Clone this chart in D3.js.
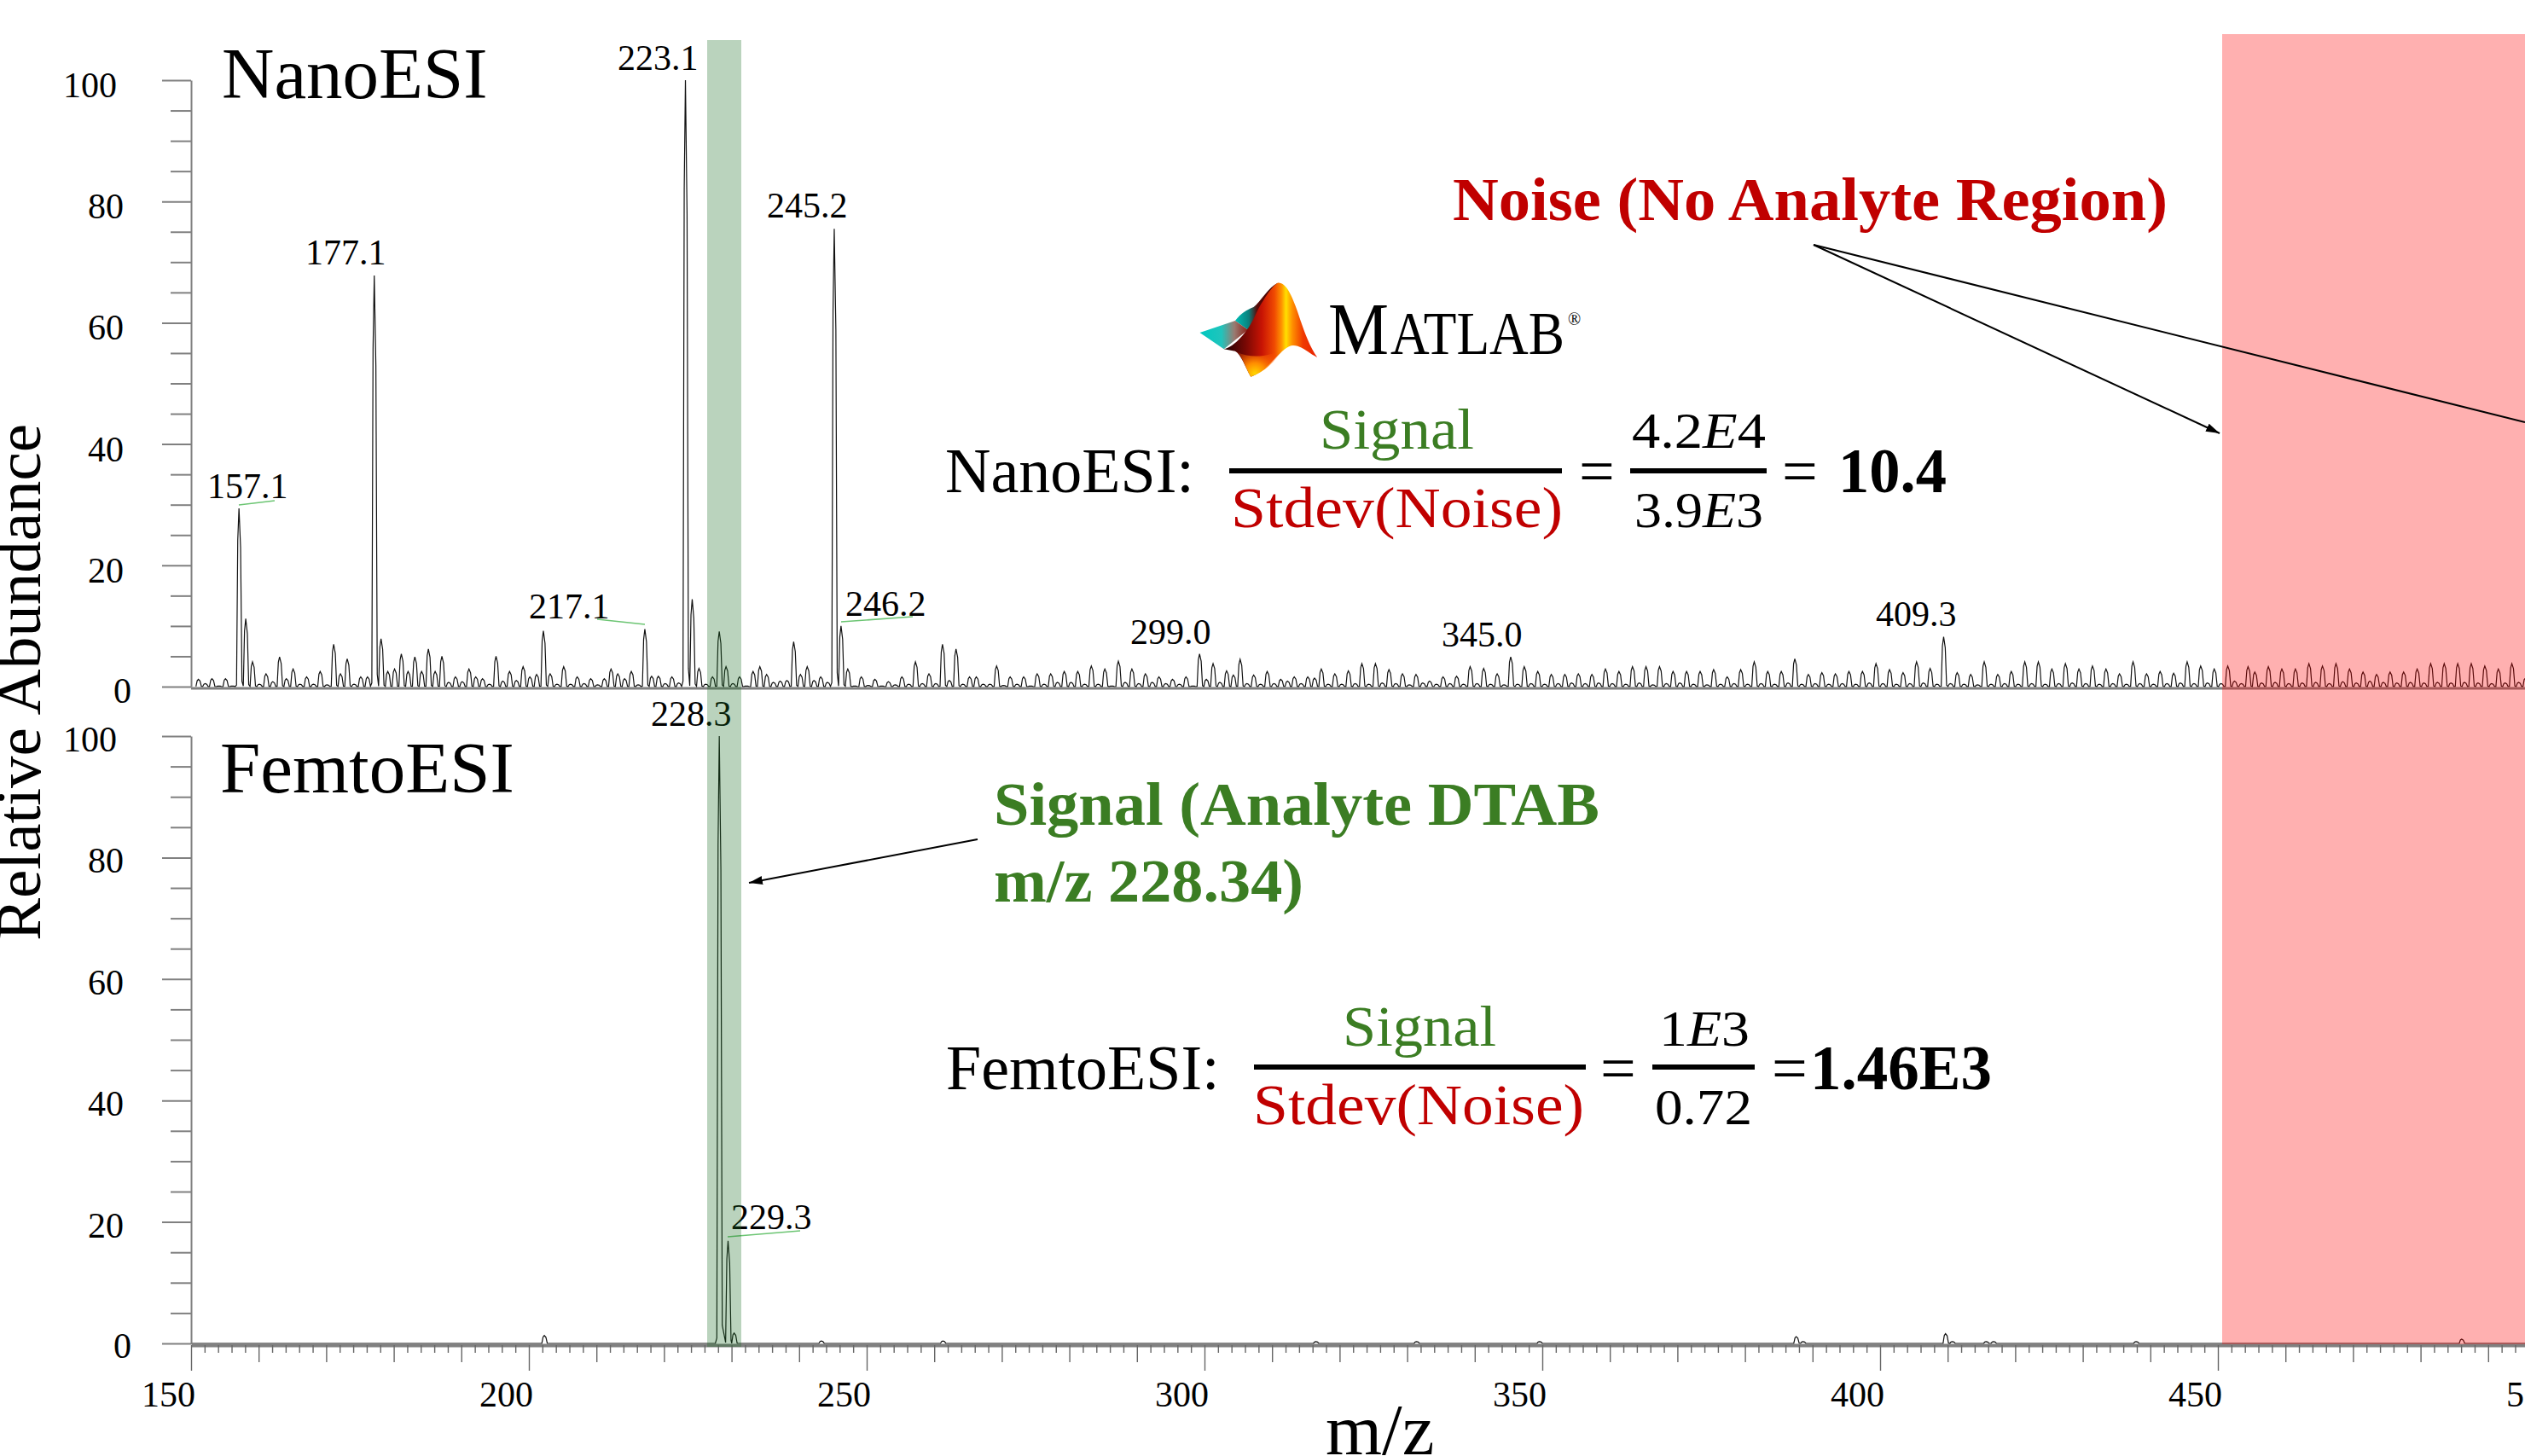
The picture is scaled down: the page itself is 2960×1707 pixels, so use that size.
<!DOCTYPE html>
<html><head><meta charset="utf-8">
<script src="https://cdn.jsdelivr.net/npm/d3@7"></script>
<style>html,body{margin:0;padding:0;background:#fff;overflow:hidden}svg{display:block}text{font-family:"Liberation Serif",serif;fill:#000}</style>
</head><body><svg id="c" width="2960" height="1707"></svg>
<script>
// Unit-resolution abundance for the NanoESI trace, m/z 151 upward, one value per m/z
const nanoAbundance=[
1.2,.5,1.3,.1,1.3,.1,29.4,11.2,4.1,.4,
2.1,.8,4.9,1.3,2.9,.4,1.6,.4,2.5,.3,
7,2.1,4.6,.4,1.6,1.6,67.8,7.9,2.5,2.9,
5.4,2.5,4.9,2.5,6.2,2.5,5,.7,1.6,.8,
2.9,1.6,1.3,.4,5,.9,2.5,1,3.3,1.6,
2,9.2,2.1,.4,3.3,.4,1.6,.5,1.3,.3,
1.3,2.9,2.1,1.3,2.5,.3,9.5,1.7,1.7,.5,
1.6,.6,100,14.4,3,.4,1.6,9.1,3.3,.5,
1.6,.1,2.5,3.3,2,.7,.9,1,7.4,2,
3.3,1,1.6,.7,75.5,10,2.9,.1,1.6,.2,
1.2,.1,.8,.3,1.6,.4,4.1,.5,2.1,.5,
7,1,6.2,.4,1.6,1.6,.4,.4,3.4,.2,
1.6,.4,1.6,.1,2.1,.4,2.1,.7,2.5,.7,
2.5,.4,3.4,.4,2.9,.1,4.2,.7,2.9,.5,
2.1,.7,1.6,.5,1.2,.4,1.6,.1,5.4,1.2,
3.8,.7,2.6,1.9,4.5,.5,1.9,.4,2.5,.5,
1.2,.9,1.6,.5,1.6,1.4,2.9,.4,2.1,.4,
2.6,.5,3.8,.4,3.8,.6,2.8,.5,2.1,.3,
2,.6,.9,.4,1.6,.5,1.7,.4,3.3,.5,
3,.4,2.1,.3,4.9,.4,3.3,.5,2.5,.4,
2,.5,2,.6,2.1,.5,2,.6,2.9,.5,
2.5,.4,3.3,.6,3.3,.3,3.3,.5,2.5,.6,
2.5,.4,2.5,.3,2.8,.4,1.6,.5,2.8,.4,
4.1,.5,2.5,.4,2.5,.6,4.6,.4,2,.5,
2.3,.4,2.1,.5,2.5,.4,2.5,.6,3.8,.5,
2.8,.4,2.3,.5,4.1,.6,3,.4,8.2,.5,
2.3,.4,2,.3,4.1,.4,2,.5,2.5,.4,
4.1,.5,4.1,.4,2.9,.5,3.8,.6,2.9,.5,
3.4,.4,2.9,.5,2.1,.4,4.1,.5,2.1,.4,
2.5,.5,2.2,.6,4.1,.5,3.4,.6,2.9,.5,
3.4,.9,.5,3.3,2.4,.6,3.3,.7,2.9,.5,
2.9,.6,3.8,.7,3.4,.5,3.8,.8,2.9,.6,
2.4,.9,2,.7,2.4,.6,2.4,.7,2.9,.6,
3.8,.7,3.8,.6,3.8,.7,3.8,.6,3.4,.5,
2.9,.6,3.8,.7,1.4,.6];
const nanoFirstMz=151;
// FemtoESI trace: the few peaks above the baseline
const femtoMz=[202.2,228.1,229.4,230.3,243.2,261.2,316.4,331.3,349.5,387.5,388.5,409.6,410.6,415.6,416.7,437.8,486];
const femtoAbundance=[1.3,100,16.9,1.7,.4,.4,.3,.3,.3,1.1,.3,1.6,.3,.3,.3,.3,.7];
const yTicks=[0,20,40,60,80,100];
const xTicks=[150,200,250,300,350,400,450,500];
const nanoLabels=["157.1","177.1","217.1","223.1","245.2","246.2","299.0","345.0","409.3"];
const femtoLabels=["228.3","229.3"];

const svg=d3.select("#c");
const x=d3.scaleLinear().domain([150,500]).range([224,224+350*7.92]);
const yTop=d3.scaleLinear().domain([0,100]).range([805,94]);
const yBot=d3.scaleLinear().domain([0,100]).range([1575,863]);
const GRAY="#808080", RED="#c00000", GREEN="#3b7d23";

function txt(s,px,py,size,o={}){
  const t=svg.append("text").attr("x",px).attr("y",py).attr("font-size",size).text(s);
  if(o.anchor)t.attr("text-anchor",o.anchor);
  if(o.weight)t.attr("font-weight",o.weight);
  if(o.fill)t.style("fill",o.fill);
  if(o.len)t.attr("textLength",o.len).attr("lengthAdjust","spacingAndGlyphs");
  return t;
}
// ---- spectrum traces
function profile(mz,h){
  const v=Math.min(h*.03,3), m=mz+.1;
  return [[m-.38,v*.3],[m-.2,h*.82],[m-.02,h],[m+.22,h*.78],[m+.42,v]];
}
const nanoPts=nanoAbundance.flatMap((h,i)=>{const n=nanoFirstMz+i;return profile(n+(n-150)*.00125,h);});
const femtoPts=[[150,0]].concat(femtoMz.flatMap((m,i)=>{
  const nearPrev=i>0&&m-femtoMz[i-1]<2, nearNext=i<femtoMz.length-1&&femtoMz[i+1]-m<2;
  const p=profile(m,femtoAbundance[i]);
  return [...(nearPrev?[]:[[m-.5,0]]),...p,...(nearNext?[]:[[m+.6,0]])];
})).concat([[500,0]]);
svg.append("path").attr("d",d3.line().x(d=>x(d[0])).y(d=>yTop(d[1]))(nanoPts)).attr("fill","none").attr("stroke","#111").attr("stroke-width",1.2);
svg.append("path").attr("d",d3.line().x(d=>x(d[0])).y(d=>yBot(d[1]))(femtoPts)).attr("fill","none").attr("stroke","#111").attr("stroke-width",1.2);

// ---- axes
function yAxis(scale){
  const g=svg.append("g").attr("transform","translate(224,0)")
    .call(d3.axisLeft(scale).tickValues(d3.range(0,101,5)).tickFormat("").tickSizeOuter(0));
  g.select(".domain").attr("stroke",GRAY).attr("stroke-width",2);
  g.selectAll(".tick line").attr("stroke",GRAY).attr("stroke-width",2)
    .attr("x2",d=>yTicks.includes(d)?-34:-24);
}
yAxis(yTop);yAxis(yBot);
svg.append("line").attr("x1",224).attr("x2",2960).attr("y1",807).attr("y2",807).attr("stroke",GRAY).attr("stroke-width",3);
const xg=svg.append("g").attr("transform","translate(0,1577)")
  .call(d3.axisBottom(x).tickValues(d3.range(150,501,2)).tickFormat("").tickSizeOuter(0));
xg.select(".domain").attr("stroke",GRAY).attr("stroke-width",4);
xg.selectAll(".tick line").attr("stroke","#666").attr("stroke-width",1.4)
  .attr("y2",d=>d%50==0?30:d%10==0?20:9);
yTicks.forEach(v=>{
  const right=v==100?137:v==0?154:145;
  txt(v,right,yTop(v)+(v==0?19:20),42,{anchor:"end"});
  txt(v,right,yBot(v)+(v==0?17:18),42,{anchor:"end"});
});
xTicks.forEach(v=>txt(v,x(v)+5,1649,42,{anchor:"end"}));
txt("m/z",1554,1705,85);
svg.append("text").attr("transform","translate(47,800) rotate(-90)").attr("text-anchor","middle").attr("font-size",75).text("Relative Abundance");

// ---- panel titles, peak labels
txt("NanoESI",260,115,85);
txt("FemtoESI",258,929,85);
const labelPos=[[243,584],[358,310],[620,725],[724,82],[899,255],[991,722],[1325,755],[1690,758],[2199,734]];
nanoLabels.forEach((s,i)=>txt(s,labelPos[i][0],labelPos[i][1],42));
txt(femtoLabels[0],763,851,42);
txt(femtoLabels[1],857,1441,42);
[[280,592,322,587],[700,726,756,732],[986,729,1070,723],[853,1450,938,1443]].forEach(p=>
  svg.append("line").attr("x1",p[0]).attr("y1",p[1]).attr("x2",p[2]).attr("y2",p[3]).attr("stroke","#6cc573").attr("stroke-width",1.6));

// ---- bands
svg.append("rect").attr("x",829).attr("width",40).attr("y",47).attr("height",1532).attr("fill","#196c23").attr("opacity",.3);
svg.append("rect").attr("x",2605).attr("width",355).attr("y",40).attr("height",1536).attr("fill","#ff0000").attr("opacity",.31);

// ---- annotations
const defs=svg.append("defs");
defs.append("marker").attr("id","ah").attr("viewBox","0 0 16 10").attr("refX",16).attr("refY",5)
  .attr("markerWidth",16).attr("markerHeight",10).attr("markerUnits","userSpaceOnUse").attr("orient","auto")
  .append("path").attr("d","M0,0L16,5L0,10Z").attr("fill","#000");
[[2126,287,2602,508,1],[2126,287,2960,495,0],[1146,984,878,1035,1]].forEach(a=>{
  const l=svg.append("line").attr("x1",a[0]).attr("y1",a[1]).attr("x2",a[2]).attr("y2",a[3]).attr("stroke","#000").attr("stroke-width",2);
  if(a[4])l.attr("marker-end","url(#ah)");
});
txt("Noise (No Analyte Region)",1703,258,72,{weight:"bold",fill:RED,len:838});
txt("Signal (Analyte DTAB",1165,967,72,{weight:"bold",fill:GREEN,len:710});
txt("m/z 228.34)",1165,1057,72,{weight:"bold",fill:GREEN,len:363});

// ---- equations
function bar(a,b,y){svg.append("rect").attr("x",a).attr("width",b-a).attr("y",y-3).attr("height",6).attr("fill","#000");}
function sci(a,b,py,size,len,px){
  const t=svg.append("text").attr("x",px).attr("y",py).attr("font-size",size).attr("textLength",len).attr("lengthAdjust","spacingAndGlyphs");
  t.append("tspan").text(a);
  t.append("tspan").attr("font-style","italic").text("E");
  t.append("tspan").text(b);
}
txt("NanoESI:",1108,577,74);
txt("Signal",1547,526,68,{fill:GREEN,len:181});
txt("Stdev(Noise)",1443,618,68,{fill:RED,len:389});
bar(1441,1831,552);
txt("=",1851,577,74);
sci("4.2","4",525,60,157,1913);
bar(1911,2071,552);
sci("3.9","3",618,60,151,1916);
txt("=",2089,577,74);
txt("10.4",2155,577,74,{weight:"bold",len:127});

txt("FemtoESI:",1109,1277,74);
txt("Signal",1574,1226,68,{fill:GREEN,len:180});
txt("Stdev(Noise)",1469,1318,68,{fill:RED,len:388});
bar(1470,1859,1251);
txt("=",1876,1277,74);
sci("1","3",1226,60,106,1945);
bar(1937,2057,1251);
txt("0.72",1940,1318,60,{len:114});
txt("=",2077,1277,74);
txt("1.46E3",2122,1277,74,{weight:"bold",len:213});

// ---- MATLAB logo
const lg=svg.append("g").attr("transform","translate(1380,310) scale(0.3317,0.3333)");
function grad(id,stops,x1,x2){
  const g=defs.append("linearGradient").attr("id",id).attr("gradientUnits","userSpaceOnUse").attr("x1",x1).attr("x2",x2).attr("y1",0).attr("y2",0);
  stops.forEach(s=>g.append("stop").attr("offset",s[0]).attr("stop-color",s[1]));
}
grad("lgWing",[[0,"#00c8c0"],[.45,"#20c4bc"],[.72,"#9a7a70"],[1,"#8a2018"]],80,250);
grad("lgBack",[[0,"#00b8b0"],[.3,"#0a7f7c"],[.5,"#5a0806"],[1,"#3a0403"]],210,355);
grad("lgBody",[[0,"#300303"],[.2,"#7a0804"],[.38,"#c81404"],[.52,"#f04a02"],[.6,"#ff9400"],[.65,"#ffe000"],[.72,"#ff9000"],[.84,"#f03a00"],[1,"#e82000"]],180,495);
const rg=defs.append("radialGradient").attr("id","lgLow").attr("gradientUnits","userSpaceOnUse").attr("cx",275).attr("cy",385).attr("r",110);
[[0,"#ffd800",1],[.35,"#ff8c00",1],[1,"#ff4000",0]].forEach(s=>rg.append("stop").attr("offset",s[0]).attr("stop-color",s[1]).attr("stop-opacity",s[2]));
lg.append("path").attr("d","M205,198C225,172 245,160 270,150C295,130 325,78 355,65L340,200L290,260L250,230Z").attr("fill","url(#lgBack)");
lg.append("path").attr("d","M80,240L205,198L250,230L165,298Z").attr("fill","url(#lgWing)");
const body="M355,65C385,62 405,110 425,165C445,225 465,285 495,327C460,310 440,285 410,285C370,285 330,370 260,395C240,360 225,315 205,305L165,298C200,290 250,240 280,170C300,130 335,75 355,65Z";
lg.append("path").attr("d",body).attr("fill","url(#lgBody)");
lg.append("path").attr("d","M210,308C228,318 240,360 260,395C310,378 345,340 375,300C330,320 270,335 210,308Z").attr("fill","url(#lgLow)");
txt("M",1557,415,86,{len:71});
txt("ATLAB",1630,415,72,{len:204});
txt("®",1838,381,20);
</script></body></html>
